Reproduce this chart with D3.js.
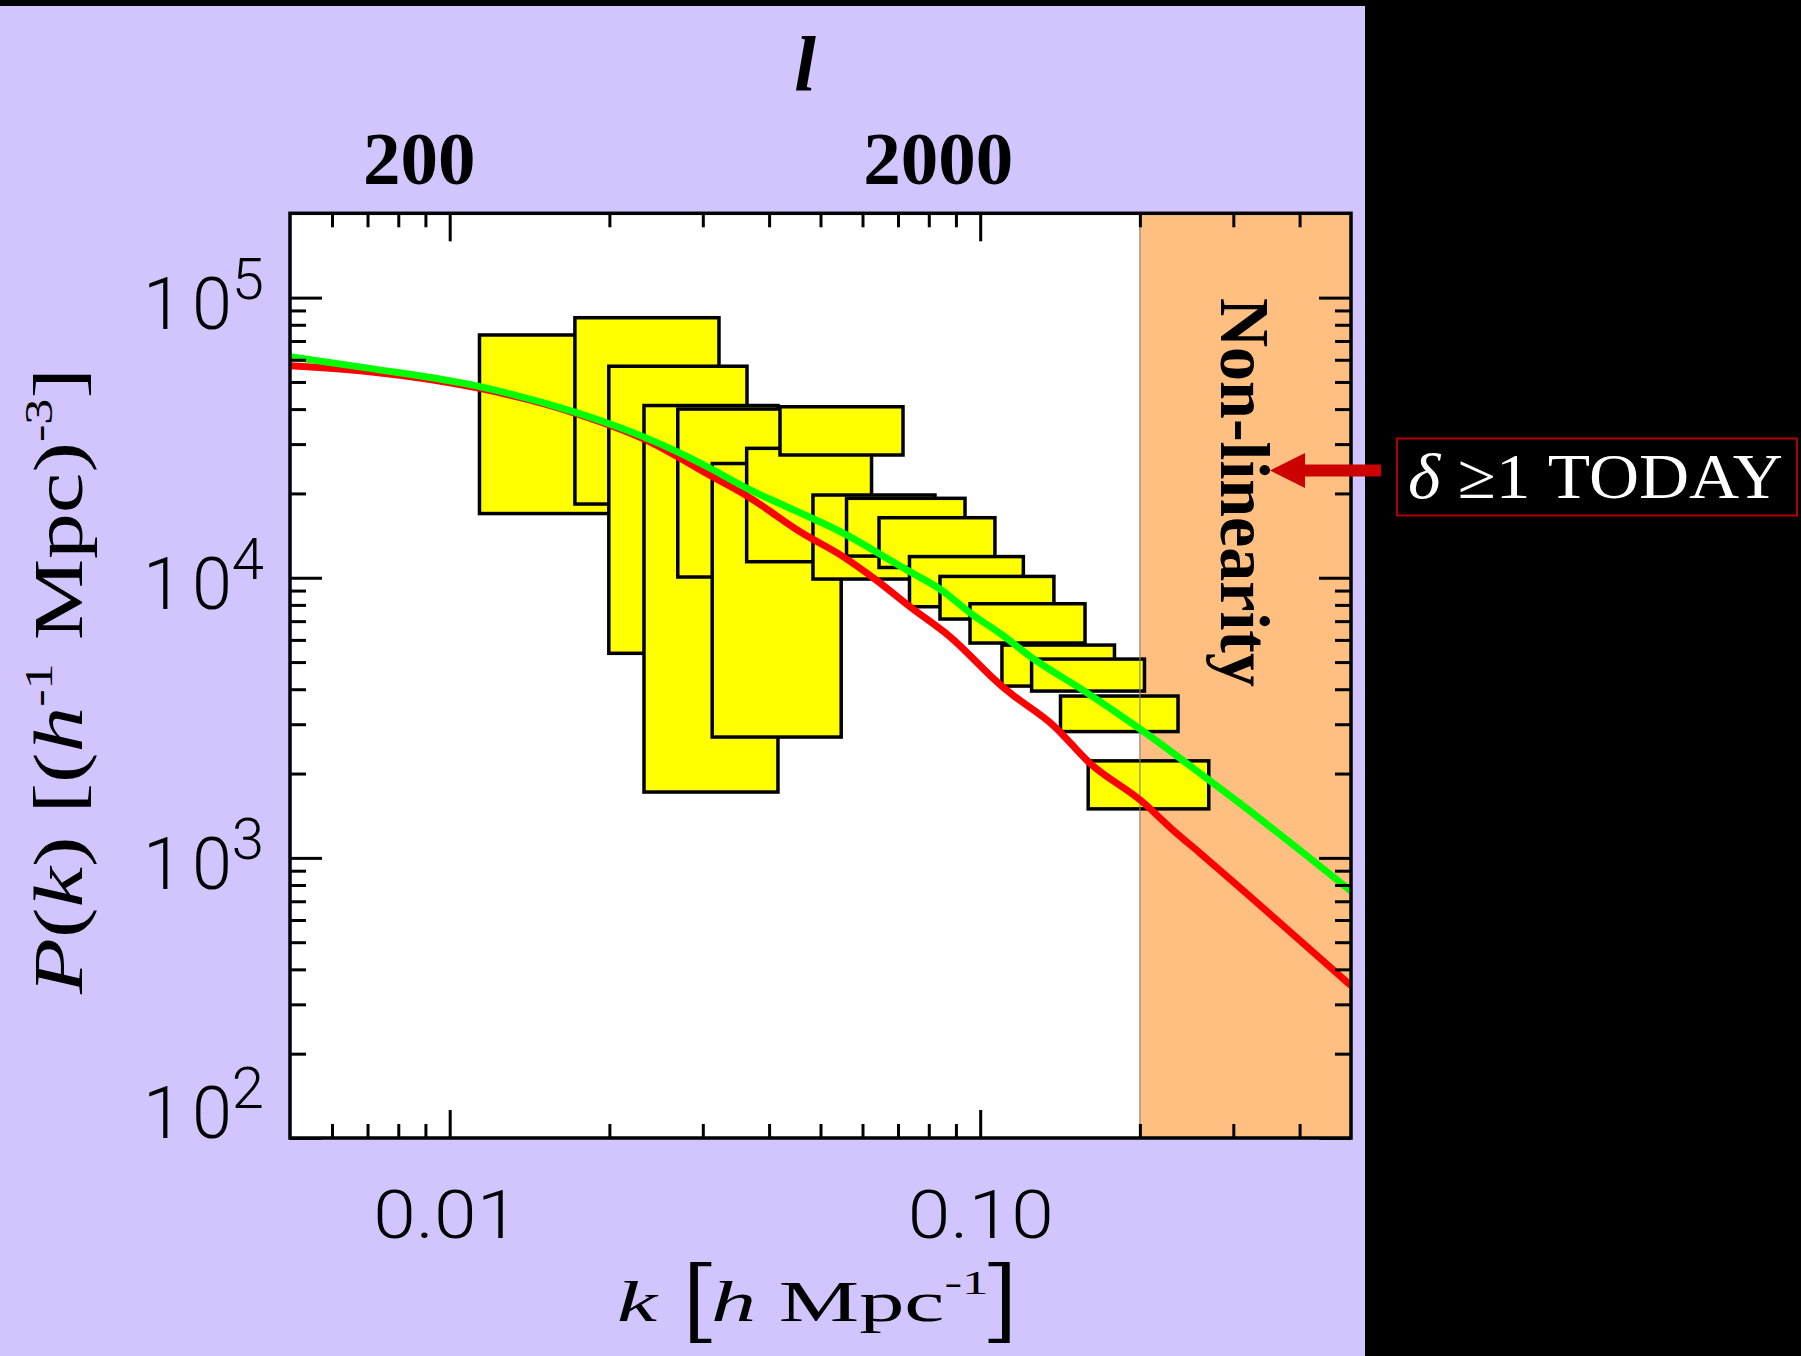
<!DOCTYPE html>
<html>
<head>
<meta charset="utf-8">
<script src="https://cdn.jsdelivr.net/npm/d3@7"></script>
<style>
  html, body { margin: 0; padding: 0; background: #000; }
  svg { display: block; }
</style>
</head>
<body>
<svg id="chart" width="1801" height="1356"></svg>
<script>
// ---- axis ranges and tick labels ----
const kDomain = [0.005, 0.5];          // k [h Mpc^-1]
const pDomain = [100, 2e5];            // P(k) [(h^-1 Mpc)^3]
const ellDomain = [113, 12500];        // multipole scale on the top axis
const ellTicks = [200, 2000];
const kLabelTicks = [0.01, 0.1];
const kLabelText = ["0.01", "0.10"];
const kMajorTicks = [0.01, 0.1];
const kMinorTicks = [0.006, 0.007, 0.008, 0.009,
                     0.02, 0.03, 0.04, 0.05, 0.06, 0.07, 0.08, 0.09,
                     0.2, 0.3, 0.4];
const pMajorTicks = [1e2, 1e3, 1e4, 1e5];
const pMinorTicks = [200, 300, 400, 500, 600, 700, 800, 900,
                     2000, 3000, 4000, 5000, 6000, 7000, 8000, 9000,
                     20000, 30000, 40000, 50000, 60000, 70000, 80000, 90000];
const nonLinearK = 0.2;                // start of the shaded non-linear band

// ---- band-power boxes, in drawing order ----
const boxKLow  = [0.01138, 0.01722, 0.01995, 0.02324, 0.02691, 0.03125, 0.03629, 0.04194, 0.04839,
                  0.05598, 0.06446, 0.07357, 0.08399, 0.09568, 0.1099, 0.1250, 0.1417, 0.1598];
const boxKHigh = [0.0220, 0.03218, 0.03634, 0.04157, 0.0440, 0.0547, 0.0624, 0.07153, 0.08218,
                  0.09362, 0.1066, 0.1206, 0.1377, 0.1576, 0.1791, 0.2040, 0.2360, 0.2697];
const boxPLow  = [16950, 18330, 5373, 1718, 10060, 2700, 11410, 27430, 9894,
                  11950, 10880, 7880, 7122, 5847, 4105, 3940, 2824, 1496];
const boxPHigh = [73560, 84780, 56900, 41190, 40020, 25570, 28970, 40780, 19740,
                  19210, 16380, 11900, 10110, 8077, 5750, 5125, 3782, 2220];

// ---- model spectra ----
const greenK = [0.005, 0.00707, 0.0114, 0.01715, 0.01988, 0.02314, 0.02682, 0.03122, 0.03634, 0.04382,
                0.0561, 0.0628, 0.07374, 0.084, 0.0969, 0.109, 0.1257, 0.1562, 0.2018, 0.2676, 0.3088, 0.5];
const greenP = [61500, 55900, 48100, 39100, 35600, 31900, 28200, 24400, 20850, 17700,
                14200, 12560, 10500, 9110, 7360, 6330, 5155, 3970, 2850, 1920, 1565, 761];
const redK = [0.005, 0.00707, 0.0114, 0.01715, 0.02314, 0.03136, 0.03634, 0.04575, 0.05514, 0.06334,
              0.07374, 0.0877, 0.1099, 0.1153, 0.1371, 0.1611, 0.2018, 0.2309, 0.2596, 0.5];
const redP = [57100, 54400, 47400, 38800, 31400, 22900, 19600, 14600, 11900, 9890,
              7880, 6160, 4100, 3810, 2980, 2175, 1590, 1257, 1040, 350];

// ---- layout ----
const W = 1801, H = 1356;
const L = 290, R = 1351, T = 213.3, B = 1138;
const serif = "'Liberation Serif', 'Times New Roman', serif";
const sans = "Roboto, 'Open Sans', 'DejaVu Sans', sans-serif";

const svg = d3.select("#chart");
svg.append("rect").attr("width", W).attr("height", H).attr("fill", "#000");
svg.append("rect").attr("x", 0).attr("y", 6).attr("width", 1365).attr("height", H - 6).attr("fill", "#D2C4FC");

const x = d3.scaleLog().domain(kDomain).range([L, R]);
const y = d3.scaleLog().domain(pDomain).range([B, T]);
const ell = d3.scaleLog().domain(ellDomain).range([L, R]);

svg.append("defs").append("clipPath").attr("id", "plotClip")
  .append("rect").attr("x", L).attr("y", T).attr("width", R - L).attr("height", B - T);

// plot background and non-linear band
svg.append("rect").attr("x", L).attr("y", T).attr("width", R - L).attr("height", B - T).attr("fill", "#fff");
svg.append("rect").attr("x", x(nonLinearK)).attr("y", T)
  .attr("width", R - x(nonLinearK)).attr("height", B - T).attr("fill", "#FFBF80");

// band-power boxes
const boxes = boxKLow.map((k, i) => ({ k0: k, k1: boxKHigh[i], p0: boxPLow[i], p1: boxPHigh[i] }));
svg.append("g").selectAll("rect").data(boxes).join("rect")
  .attr("x", d => x(d.k0))
  .attr("y", d => y(d.p1))
  .attr("width", d => x(d.k1) - x(d.k0))
  .attr("height", d => y(d.p0) - y(d.p1))
  .attr("fill", "#FFFF00")
  .attr("stroke", "#000")
  .attr("stroke-width", 3.5);

// boundary of the non-linear band
svg.append("line")
  .attr("x1", x(nonLinearK)).attr("x2", x(nonLinearK)).attr("y1", T).attr("y2", B)
  .attr("stroke", "#808080").attr("stroke-opacity", 0.75).attr("stroke-width", 1.5);

// spectra
const line = d3.line().x(d => x(d[0])).y(d => y(d[1])).curve(d3.curveMonotoneX);
const curves = svg.append("g").attr("clip-path", "url(#plotClip)");
curves.append("path").datum(d3.zip(redK, redP)).attr("d", line)
  .attr("fill", "none").attr("stroke", "#FF0000").attr("stroke-width", 7);
curves.append("path").datum(d3.zip(greenK, greenP)).attr("d", line)
  .attr("fill", "none").attr("stroke", "#00FF00").attr("stroke-width", 7);

// ---- axes ----
function plainTicks(g) {
  g.select(".domain").remove();
  g.selectAll(".tick line").attr("stroke", "#000").attr("stroke-width", 3);
}

// bottom
svg.append("g").attr("transform", `translate(0,${B})`)
  .call(d3.axisBottom(x).tickValues(kMinorTicks).tickSize(-14).tickFormat(""))
  .call(plainTicks);
const bottomMajor = svg.append("g").attr("transform", `translate(0,${B})`)
  .call(d3.axisBottom(x).tickValues(kLabelTicks).tickSize(-28).tickFormat((d, i) => kLabelText[i]))
  .call(plainTicks);
bottomMajor.selectAll(".tick text")
  .attr("dy", null).attr("y", 100)
  .attr("font-family", sans).attr("font-weight", 300).attr("font-size", 67)
  .attr("fill", "#000")
  .attr("textLength", 146).attr("lengthAdjust", "spacingAndGlyphs");
bottomMajor.selectAll(".tick").filter(d => d === kLabelTicks[0])
  .select("text").attr("x", -4);

// top (same k ticks)
svg.append("g").attr("transform", `translate(0,${T})`)
  .call(d3.axisTop(x).tickValues(kMinorTicks).tickSize(-14).tickFormat(""))
  .call(plainTicks);
svg.append("g").attr("transform", `translate(0,${T})`)
  .call(d3.axisTop(x).tickValues(kMajorTicks).tickSize(-28).tickFormat(""))
  .call(plainTicks);

// top multipole labels
const topLab = svg.append("g").attr("transform", `translate(0,${T})`)
  .call(d3.axisTop(ell).tickValues(ellTicks).tickSize(0).tickFormat(d3.format("d")));
topLab.select(".domain").remove();
topLab.selectAll(".tick line").remove();
topLab.selectAll(".tick text")
  .attr("dy", null).attr("y", -29.3)
  .attr("font-family", serif).attr("font-weight", "bold").attr("font-size", 75)
  .attr("fill", "#000");

// left
svg.append("g").attr("transform", `translate(${L},0)`)
  .call(d3.axisLeft(y).tickValues(pMinorTicks).tickSize(-16).tickFormat(""))
  .call(plainTicks);
const leftMajor = svg.append("g").attr("transform", `translate(${L},0)`)
  .call(d3.axisLeft(y).tickValues(pMajorTicks).tickSize(-32).tickPadding(26).tickFormat(""))
  .call(plainTicks);
leftMajor.selectAll(".tick text").each(function(d) {
  const t = d3.select(this)
    .attr("dy", null)
    .attr("y", d === pDomain[0] ? -1 : 31)
    .attr("font-family", sans).attr("font-weight", 300)
    .attr("fill", "#000");
  t.append("tspan").attr("font-size", 72).attr("letter-spacing", 9).text("1");
  t.append("tspan").attr("font-size", 72).text("0");
  t.append("tspan").attr("font-size", 58).attr("dy", -30)
    .text(Math.round(Math.log10(d)));
});

// right
svg.append("g").attr("transform", `translate(${R},0)`)
  .call(d3.axisRight(y).tickValues(pMinorTicks).tickSize(-16).tickFormat(""))
  .call(plainTicks);
svg.append("g").attr("transform", `translate(${R},0)`)
  .call(d3.axisRight(y).tickValues(pMajorTicks).tickSize(-32).tickFormat(""))
  .call(plainTicks);

// frame
svg.append("rect").attr("x", L).attr("y", T).attr("width", R - L).attr("height", B - T)
  .attr("fill", "none").attr("stroke", "#000").attr("stroke-width", 3.5);

// ---- titles ----
// top: multipole
svg.append("text").attr("x", 805).attr("y", 90)
  .attr("text-anchor", "middle")
  .attr("font-family", serif).attr("font-style", "italic").attr("font-weight", "bold")
  .attr("font-size", 78).attr("fill", "#000").text("l");

// bottom: k [h Mpc^-1]
const xt = svg.append("text").attr("x", 617).attr("y", 1321)
  .attr("font-family", serif).attr("font-size", 58).attr("fill", "#000")
  .attr("textLength", 403).attr("lengthAdjust", "spacingAndGlyphs");
xt.append("tspan").attr("font-style", "italic").text("k");
xt.append("tspan").text("\u00a0");
xt.append("tspan").attr("font-family", sans).attr("font-weight", 300)
  .attr("font-size", 84).attr("dy", 9).text("[");
xt.append("tspan").attr("font-style", "italic").attr("dy", -9).text("h");
xt.append("tspan").text("\u00a0Mpc");
xt.append("tspan").attr("font-size", 34).attr("dy", -27).text("-1");
xt.append("tspan").attr("font-family", sans).attr("font-weight", 300)
  .attr("font-size", 84).attr("dy", 36).text("]");

// left: P(k) [(h^-1 Mpc)^-3]
const yt = svg.append("text")
  .attr("transform", "translate(82,681) rotate(-90)")
  .attr("text-anchor", "middle")
  .attr("font-family", serif).attr("font-size", 70).attr("fill", "#000")
  .attr("textLength", 626).attr("lengthAdjust", "spacingAndGlyphs");
yt.append("tspan").attr("font-style", "italic").text("P");
yt.append("tspan").text("(");
yt.append("tspan").attr("font-style", "italic").text("k");
yt.append("tspan").text(")\u00a0[(");
yt.append("tspan").attr("font-style", "italic").text("h");
yt.append("tspan").attr("font-size", 40).attr("dy", -30).text("-1");
yt.append("tspan").attr("dy", 30).text("\u00a0Mpc)");
yt.append("tspan").attr("font-size", 40).attr("dy", -30).text("-3");
yt.append("tspan").attr("dy", 30).text("]");

// non-linear band label
svg.append("text")
  .attr("transform", `translate(1221,298) rotate(90)`)
  .attr("font-family", serif).attr("font-weight", "bold").attr("font-size", 70)
  .attr("fill", "#000")
  .attr("textLength", 389).attr("lengthAdjust", "spacingAndGlyphs")
  .text("Non-linearity");

// ---- annotation: delta >= 1 today ----
const note = svg.append("g");
note.append("rect").attr("x", 1397).attr("y", 438.5).attr("width", 400).attr("height", 77)
  .attr("fill", "#000").attr("stroke", "#B00000").attr("stroke-width", 2);
const nt = note.append("text").attr("x", 1408).attr("y", 498)
  .attr("font-family", serif).attr("font-size", 64).attr("fill", "#fff")
  .attr("textLength", 375).attr("lengthAdjust", "spacingAndGlyphs");
nt.append("tspan").attr("font-style", "italic").text("\u03b4");
nt.append("tspan").text(" \u22651 TODAY");

// arrow pointing into the non-linear band
note.append("path")
  .attr("d", "M1381,464.5 L1305,464.5 L1305,453 L1270,470.5 L1305,488 L1305,476.5 L1381,476.5 Z")
  .attr("fill", "#CC0000");
</script>
</body>
</html>
